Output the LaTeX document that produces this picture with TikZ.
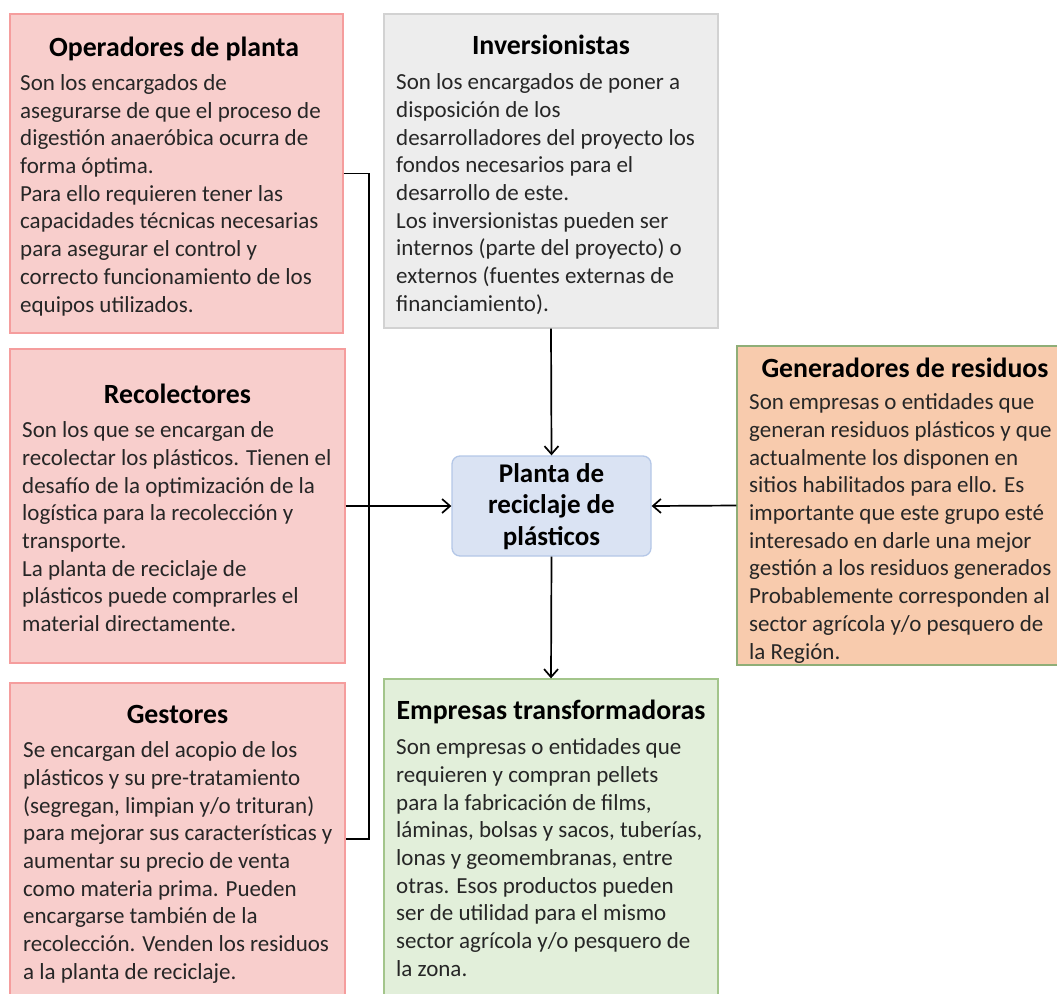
\documentclass[tikz,border=0pt]{standalone}
\usepackage{fontspec}
\setmainfont{Carlito}
\usetikzlibrary{arrows.meta}
\definecolor{pinkfill}{HTML}{F8CECC}
\definecolor{pinkdraw}{HTML}{F59D9D}
\definecolor{greyfill}{HTML}{EDEDED}
\definecolor{greydraw}{HTML}{D2D2D2}
\definecolor{bluefill}{HTML}{DAE3F3}
\definecolor{bluedraw}{HTML}{B4C7E7}
\definecolor{orangefill}{HTML}{F8CBAD}
\definecolor{orangedraw}{HTML}{8FAE77}
\definecolor{greenfill}{HTML}{E2EFDA}
\definecolor{greendraw}{HTML}{A3C58B}
\definecolor{bodytext}{HTML}{262626}
\begin{document}
\begin{tikzpicture}[x=1pt,y=-1pt,
  box/.style={rectangle, line width=1.3pt, inner sep=0pt},
  pinkbox/.style={box, fill=pinkfill, draw=pinkdraw},
  greybox/.style={box, fill=greyfill, draw=greydraw},
  orangebox/.style={box, fill=orangefill, draw=orangedraw},
  greenbox/.style={box, fill=greenfill, draw=greendraw},
  plantbox/.style={box, rounded corners=8pt, fill=bluefill, draw=bluedraw,
    font=\fontsize{27}{31.5}\selectfont\bfseries, align=center, text=black},
  boxtitle/.style={font=\fontsize{27.8}{32}\selectfont\bfseries, text=black, inner sep=0pt, anchor=base},
  boxbody/.style={font=\fontsize{23}{27.7}\selectfont, text=bodytext, inner sep=0pt,
    anchor=north west, align=left, execute at begin node=\strut},
  conn/.style={line width=1.7pt, draw=black},
  arr/.style={conn, -{Straight Barb[length=8pt,width=14pt,line width=1.7pt]}}
]
\useasboundingbox (0,0) rectangle (1057,993);

% boxes
\node[pinkbox, minimum width=333pt, minimum height=319pt] (op) at (176.5,173.5) {};
\node[greybox, minimum width=334pt, minimum height=314pt] (inv) at (551,171) {};
\node[pinkbox, minimum width=335pt, minimum height=314pt] (rec) at (177.5,506) {};
\node[pinkbox, minimum width=335pt, minimum height=312pt] (ges) at (177.5,839) {};
\node[orangebox, minimum width=324pt, minimum height=319pt] (gen) at (899,505.5) {};
\node[greenbox, minimum width=334pt, minimum height=316pt] (emp) at (551,837) {};
\node[plantbox, minimum width=199pt, minimum height=100pt, text depth=3pt] (pl) at (551.5,506) {Planta de\\reciclaje de\\plásticos};

% titles and texts
\node[boxtitle] (opt) at (174,56) {Operadores de planta};
\node[boxbody] (opb) at (20,74.3) {Son los encargados de\\asegurarse de que el proceso de\\digestión anaeróbica ocurra de\\forma óptima.\\Para ello requieren tener las\\capacidades técnicas necesarias\\para asegurar el control y\\correcto funcionamiento de los\\equipos utilizados.};

\node[boxtitle] (invt) at (551,54) {Inversionistas};
\node[boxbody] (invb) at (396,73.6) {Son los encargados de poner a\\disposición de los\\desarrolladores del proyecto los\\fondos necesarios para el\\desarrollo de este.\\Los inversionistas pueden ser\\internos (parte del proyecto) o\\externos (fuentes externas de\\financiamiento).};

\node[boxtitle] (rect) at (177.5,403) {Recolectores};
\node[boxbody] (recb) at (22,421.6) {Son los que se encargan de\\recolectar los plásticos. Tienen el\\desafío de la optimización de la\\logística para la recolección y\\transporte.\\La planta de reciclaje de\\plásticos puede comprarles el\\material directamente.};

\node[boxtitle] (gest) at (177.5,723) {Gestores};
\node[boxbody] (gesb) at (23,741.6) {Se encargan del acopio de los\\plásticos y su pre-tratamiento\\(segregan, limpian y/o trituran)\\para mejorar sus características y\\aumentar su precio de venta\\como materia prima. Pueden\\encargarse también de la\\recolección. Venden los residuos\\a la planta de reciclaje.};

\node[boxtitle] (gent) at (905,377) {Generadores de residuos};
\node[boxbody] (genb) at (749,393.6) {Son empresas o entidades que\\generan residuos plásticos y que\\actualmente los disponen en\\sitios habilitados para ello. Es\\importante que este grupo esté\\interesado en darle una mejor\\gestión a los residuos generados\\Probablemente corresponden al\\sector agrícola y/o pesquero de\\la Región.};

\node[boxtitle] (empt) at (551,719) {Empresas transformadoras};
\node[boxbody] (empb) at (396,738.6) {Son empresas o entidades que\\requieren y compran pellets\\para la fabricación de films,\\láminas, bolsas y sacos, tuberías,\\lonas y geomembranas, entre\\otras. Esos productos pueden\\ser de utilidad para el mismo\\sector agrícola y/o pesquero de\\la zona.};

% connectors
\coordinate (bx) at (369,506);
\coordinate (rj) at (397,506);
\draw[conn] (op.east) -| (bx) |- (ges.east);
\draw[conn] (rec.east) -- (rj);
\draw[arr, line width=2.6pt] (rj) -- (pl.west);
\draw[arr] (inv.south) -- (pl.north);
\draw[arr] (gen.west) -- (pl.east);
\draw[arr] (pl.south) -- (emp.north);
\end{tikzpicture}
\end{document}
